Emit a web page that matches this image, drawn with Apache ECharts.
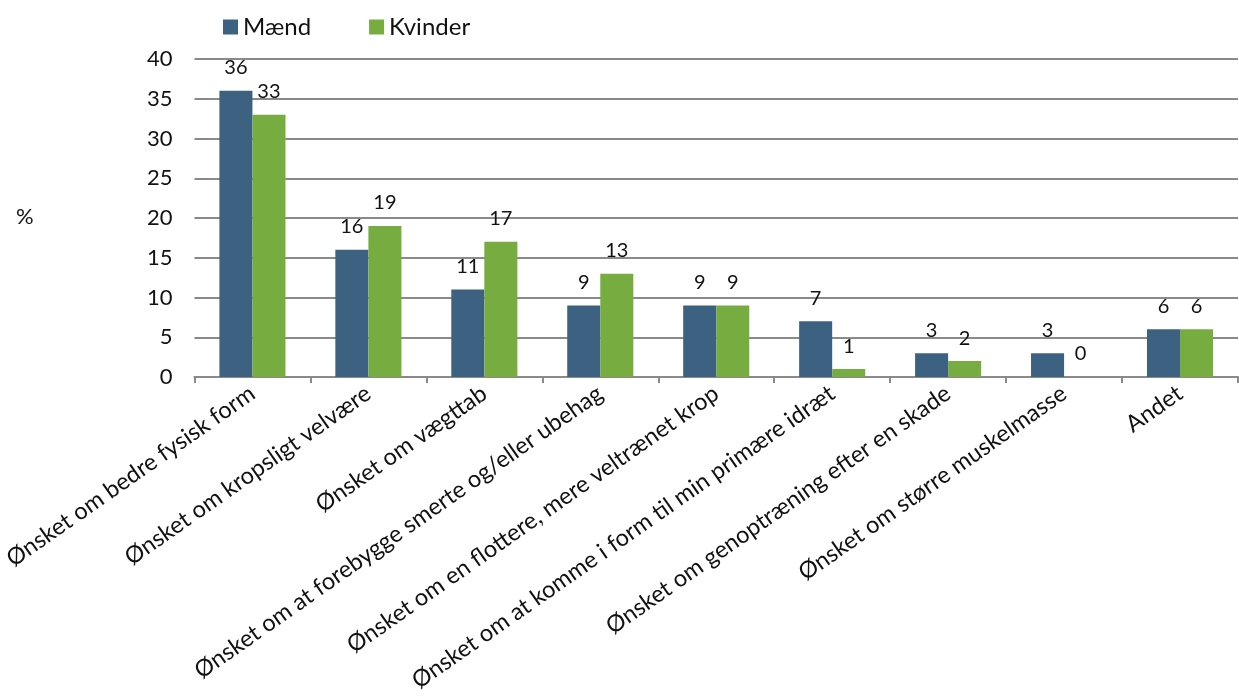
<!DOCTYPE html>
<html><head><meta charset="utf-8">
<script src="https://cdn.jsdelivr.net/npm/echarts@6/dist/echarts.min.js"></script>
<style>html,body{margin:0;padding:0;background:#fff}#c{width:1239px;height:697px}</style>
</head><body><div id="c"></div>
<script>
const categories = ["Ønsket om bedre fysisk form","Ønsket om kropsligt velvære","Ønsket om vægttab","Ønsket om at forebygge smerte og/eller ubehag","Ønsket om en flottere, mere veltrænet krop","Ønsket om at komme i form til min primære idræt","Ønsket om genoptræning efter en skade","Ønsket om større muskelmasse","Andet"];
const maend = [36,16,11,9,9,7,3,3,6];
const kvinder = [33,19,17,13,9,1,2,0,6];
const FONT = 'Lato, "Open Sans", sans-serif';
const chart = echarts.init(document.getElementById('c'));
const lbl = {show:true, position:'top', distance:13, color:'#111', fontSize:20, fontFamily:FONT};
chart.setOption({
  animation:false,
  textStyle:{fontFamily:FONT},
  legend:{top:10, left:218, itemWidth:15, itemHeight:15, itemGap:58, icon:'rect',
    textStyle:{fontSize:24, color:'#111', fontFamily:FONT}, data:['Mænd','Kvinder']},
  grid:{left:192, right:1, top:59, bottom:320, containLabel:false},
  graphic:[{type:'text', left:16, top:206, style:{text:'%', fontSize:22, fill:'#111', fontFamily:FONT}}],
  xAxis:{type:'category', data:categories,
    axisLine:{lineStyle:{color:'#8a8a8a', width:2}},
    axisTick:{show:true, length:6, lineStyle:{color:'#8a8a8a', width:2}},
    axisLabel:{rotate:35, interval:0, margin:14, fontSize:23.5, color:'#111', fontFamily:FONT}},
  yAxis:{type:'value', min:0, max:40, interval:5,
    axisLine:{show:false}, axisTick:{show:false},
    splitLine:{lineStyle:{color:'#8a8a8a', width:2}},
    axisLabel:{margin:22, fontSize:22, color:'#111', fontFamily:FONT}},
  series:[
    {name:'Mænd', type:'bar', data:maend, barGap:'0%', barCategoryGap:'43%',
     itemStyle:{color:'#3d6180'}, label:lbl},
    {name:'Kvinder', type:'bar', data:kvinder, barGap:'0%', barCategoryGap:'43%',
     itemStyle:{color:'#77ac41'}, label:lbl}
  ]
});
</script></body></html>
